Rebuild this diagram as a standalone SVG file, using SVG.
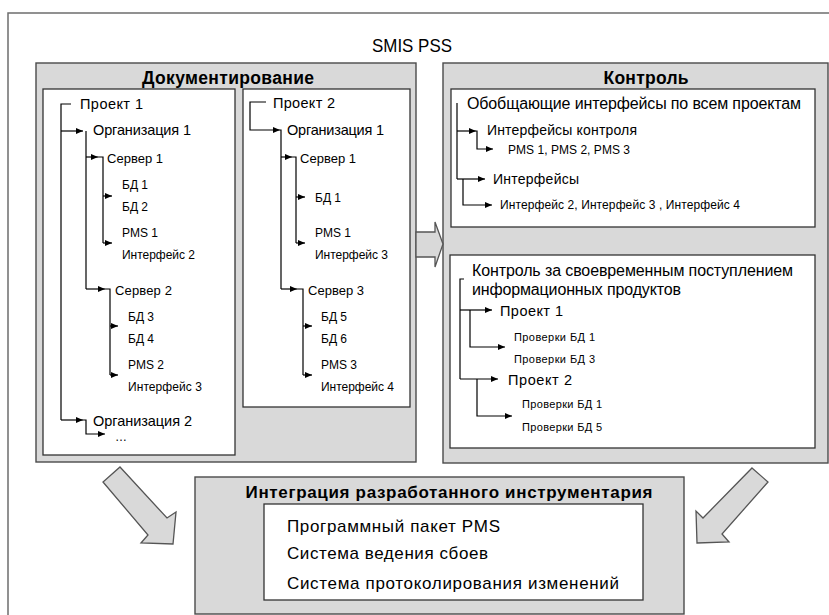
<svg xmlns="http://www.w3.org/2000/svg" width="829" height="615" viewBox="0 0 829 615">
<defs>
<style>
.frame{fill:#fff;stroke:#6e6e6e;stroke-width:1.5}
.panel{fill:#d9d9d9;stroke:#4a4a4a;stroke-width:1.4}
.box{fill:#fff;stroke:#333;stroke-width:1.3}
.big{fill:#d9d9d9;stroke:#555;stroke-width:1.3;stroke-linejoin:miter}
.ln{fill:none;stroke:#000;stroke-width:1.2}
text{font-family:"Liberation Sans",Arial,sans-serif;fill:#000}
.ttl{font-weight:bold;text-anchor:middle}
.t15{font-size:14.5px}
.t13{font-size:13px}
.t12{font-size:12px}
.t11{font-size:11px}
.t16{font-size:16px}
.t14{font-size:14px}
.t17{font-size:17px}
</style>
<marker id="ah" markerWidth="7" markerHeight="6" refX="7" refY="3" orient="auto" markerUnits="userSpaceOnUse">
<path d="M0,0 L7,3 L0,6 z" fill="#000"/>
</marker>
</defs>
<rect width="829" height="615" fill="#fff"/>
<g id="frame">
<rect class="frame" x="8" y="13" width="900" height="700"/>
<text x="412" y="52" font-size="18" text-anchor="middle" textLength="80" lengthAdjust="spacingAndGlyphs">SMIS PSS</text>
</g>

<g id="documentation">
<rect class="panel" x="36" y="63" width="380" height="399"/>
<text class="ttl" x="228" y="84" font-size="17.5" textLength="172">Документирование</text>
</g>
<g id="project1">
<rect class="box" x="43" y="89" width="192" height="366"/>
<text class="t15" x="80" y="109" textLength="63">Проект  1</text>
<text class="t15" x="93" y="135" textLength="98">Организация 1</text>
<text class="t13" x="107" y="163" textLength="56">Сервер 1</text>
<text class="t12" x="122" y="189">БД 1</text>
<text class="t12" x="122" y="211">БД 2</text>
<text class="t12" x="122" y="237">PMS 1</text>
<text class="t12" x="122" y="259" textLength="73">Интерфейс 2</text>
<text class="t13" x="115" y="295" textLength="57">Сервер 2</text>
<text class="t12" x="128" y="321">БД 3</text>
<text class="t12" x="128" y="343">БД 4</text>
<text class="t12" x="128" y="369">PMS 2</text>
<text class="t12" x="128" y="391" textLength="74">Интерфейс 3</text>
<text class="t15" x="93" y="426" textLength="99">Организация 2</text>
<text class="t12" x="115" y="441" fill="#555">…</text>
</g>
<g id="project2">
<rect class="box" x="243" y="89" width="167" height="318"/>
<text class="t15" x="273" y="108" textLength="62">Проект  2</text>
<text class="t15" x="287" y="135" textLength="97">Организация 1</text>
<text class="t13" x="300" y="163" textLength="56">Сервер 1</text>
<text class="t12" x="315" y="202">БД 1</text>
<text class="t12" x="315" y="237">PMS 1</text>
<text class="t12" x="315" y="259" textLength="73">Интерфейс 3</text>
<text class="t13" x="308" y="295" textLength="56">Сервер 3</text>
<text class="t12" x="321" y="321">БД 5</text>
<text class="t12" x="321" y="343">БД 6</text>
<text class="t12" x="321" y="369">PMS 3</text>
<text class="t12" x="321" y="391" textLength="73">Интерфейс 4</text>
</g>

<g id="control">
<rect class="panel" x="443" y="63" width="385" height="400"/>
<text class="ttl" x="646" y="84" font-size="17.5" textLength="85">Контроль</text>
</g>
<g id="general-interfaces">
<rect class="box" x="451" y="89" width="364" height="138"/>
<text class="t16" x="467" y="109" textLength="334">Обобщающие интерфейсы по всем проектам</text>
<text class="t14" x="487" y="135" textLength="150">Интерфейсы контроля</text>
<text class="t12" x="508" y="154" textLength="122">PMS 1, PMS 2, PMS 3</text>
<text class="t14" x="493" y="184" textLength="86">Интерфейсы</text>
<text class="t12" x="500" y="209" textLength="240">Интерфейс 2, Интерфейс 3 , Интерфейс 4</text>
</g>
<g id="timely-control">
<rect class="box" x="450" y="255" width="365" height="193"/>
<text class="t16" x="472" y="276" textLength="321">Контроль за своевременным поступлением</text>
<text class="t16" x="472" y="295" textLength="209">информационных продуктов</text>
<text class="t15" x="500" y="316" textLength="63">Проект  1</text>
<text class="t11" x="514" y="341" textLength="81">Проверки БД 1</text>
<text class="t11" x="514" y="363" textLength="81">Проверки БД 3</text>
<text class="t15" x="508" y="385" textLength="64">Проект  2</text>
<text class="t11" x="522" y="408" textLength="80">Проверки БД 1</text>
<text class="t11" x="522" y="431" textLength="80">Проверки БД 5</text>
</g>

<g id="integration">
<rect class="panel" x="195" y="477" width="489" height="137"/>
<text class="ttl" x="449" y="498" font-size="17" textLength="407">Интеграция разработанного инструментария</text>
<rect class="box" x="264" y="504" width="379" height="96"/>
<text class="t17" x="287" y="532" textLength="213">Программный пакет PMS</text>
<text class="t17" x="287" y="559" textLength="201">Система ведения сбоев</text>
<text class="t17" x="287" y="589" textLength="332">Система протоколирования изменений</text>
</g>

<g id="connectors">
<!-- big block arrows -->
<polygon class="big" points="416,232 435,232 435,222 443,244 435,267 435,257 416,257"/>
<polygon class="big" points="120,467 167,518 176,512 173,544 141,543 148,535 103,482"/>
<polygon class="big" points="752,468 768,482 722,534 729,542 697,543 696,511 703,518"/>
<!-- project 1 tree -->
<path class="ln" d="M71,104 H61 V420"/>
<path class="ln" d="M61,131 H83" marker-end="url(#ah)"/>
<path class="ln" d="M61,420 H83" marker-end="url(#ah)"/>
<path class="ln" d="M86,131 V289"/>
<path class="ln" d="M86,157 H98" marker-end="url(#ah)"/>
<path class="ln" d="M86,289 H105" marker-end="url(#ah)"/>
<path class="ln" d="M98,157 H103 V243"/>
<path class="ln" d="M103,196 H112" marker-end="url(#ah)"/>
<path class="ln" d="M103,243 H112" marker-end="url(#ah)"/>
<path class="ln" d="M105,289 H110 V375"/>
<path class="ln" d="M110,326 H118" marker-end="url(#ah)"/>
<path class="ln" d="M110,375 H118" marker-end="url(#ah)"/>
<path class="ln" d="M83,420 H86 V434 H105" marker-end="url(#ah)"/>
<!-- project 2 tree -->
<path class="ln" d="M266,102 H250 V130 H280" marker-end="url(#ah)"/>
<path class="ln" d="M280,130 H281 V289"/>
<path class="ln" d="M281,157 H292" marker-end="url(#ah)"/>
<path class="ln" d="M292,157 H296 V243"/>
<path class="ln" d="M296,197 H305" marker-end="url(#ah)"/>
<path class="ln" d="M296,243 H305" marker-end="url(#ah)"/>
<path class="ln" d="M281,289 H297" marker-end="url(#ah)"/>
<path class="ln" d="M297,289 H303 V375"/>
<path class="ln" d="M303,326 H312" marker-end="url(#ah)"/>
<path class="ln" d="M303,375 H312" marker-end="url(#ah)"/>
<!-- general interfaces tree -->
<path class="ln" d="M457,103 V179"/>
<path class="ln" d="M457,131 H476" marker-end="url(#ah)"/>
<path class="ln" d="M476,131 H477 V149 H493" marker-end="url(#ah)"/>
<path class="ln" d="M457,179 H485" marker-end="url(#ah)"/>
<path class="ln" d="M463,179 V205 H492" marker-end="url(#ah)"/>
<!-- timely control tree -->
<path class="ln" d="M464,279 H460 V379"/>
<path class="ln" d="M460,310 H492" marker-end="url(#ah)"/>
<path class="ln" d="M470,310 V347 H505" marker-end="url(#ah)"/>
<path class="ln" d="M460,379 H498" marker-end="url(#ah)"/>
<path class="ln" d="M477,379 V416 H512" marker-end="url(#ah)"/>
</g>
</svg>
